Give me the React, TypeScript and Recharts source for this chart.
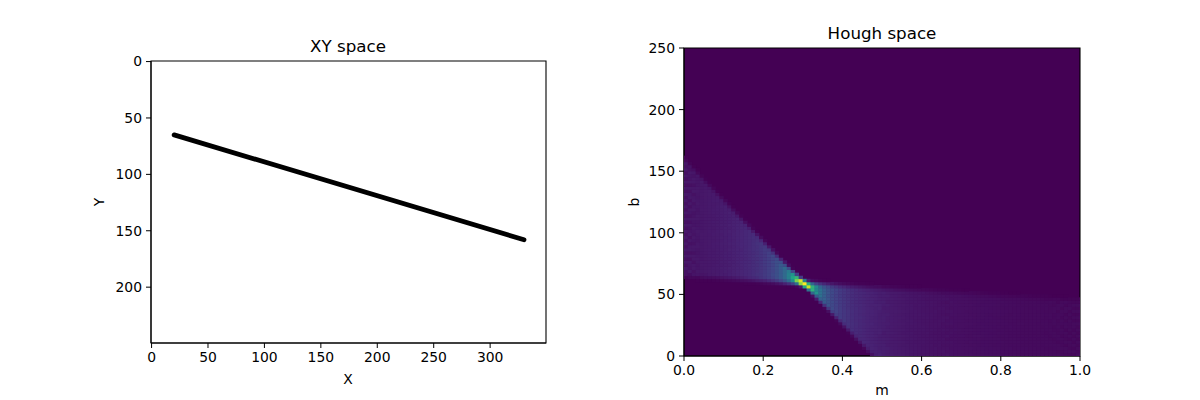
import React from 'react';
import {
  ComposedChart, ScatterChart, Scatter, Line, XAxis, YAxis, CartesianGrid, ReferenceArea,
} from 'recharts';

// left panel: the raster line (image pixel coords, y grows downward)
const lineX = [20, 330];
const lineY = [65, 158];
const lineThickness = 5;

const xyXTicks = [0, 50, 100, 150, 200, 250, 300];
const xyYTicks = [0, 50, 100, 150, 200];
const xyXDomain = [-0.5, 349.5];
const xyYDomain = [-0.5, 249.5];

// right panel: accumulator grid
const mBins = 100;
const bBins = 100;
const bMax = 250;
const houghMTicks = [0, 0.2, 0.4, 0.6, 0.8, 1.0];
const houghBTicks = [0, 50, 100, 150, 200, 250];

const viridis = [
  '#440154', '#482475', '#414487', '#355f8d', '#2a788e', '#21918c',
  '#22a884', '#44bf70', '#7ad151', '#bddf26', '#fde725',
];

const FONT = 'DejaVu Sans, sans-serif';

function hex(c: string) {
  return [1, 3, 5].map((i) => parseInt(c.slice(i, i + 2), 16));
}

function colorAt(t: number) {
  const v = Math.max(0, Math.min(1, t)) * (viridis.length - 1);
  const i = Math.min(Math.floor(v), viridis.length - 2);
  const f = v - i;
  const a = hex(viridis[i]);
  const b = hex(viridis[i + 1]);
  const c = a.map((x, k) => Math.round(x + (b[k] - x) * f));
  return `rgb(${c[0]},${c[1]},${c[2]})`;
}

// hough vote of the black pixels of the left image: b = y - m*x
function buildHough() {
  const acc = new Array(mBins * bBins).fill(0);
  const slope = (lineY[1] - lineY[0]) / (lineX[1] - lineX[0]);
  const half = Math.floor(lineThickness / 2);
  for (let x = lineX[0]; x <= lineX[1]; x++) {
    const yc = Math.round(lineY[0] + slope * (x - lineX[0]));
    for (let k = 0; k < lineThickness; k++) {
      const y = yc - half + k;
      for (let j = 0; j < mBins; j++) {
        const m = j / (mBins - 1);
        const b = y - m * x;
        const i = Math.floor(b / (bMax / bBins));
        if (i >= 0 && i < bBins) acc[j * bBins + i] += 1;
      }
    }
  }
  const max = Math.max(...acc);
  const cells = [];
  for (let j = 0; j < mBins; j++) {
    for (let i = 0; i < bBins; i++) {
      const v = acc[j * bBins + i];
      if (v > 0) {
        cells.push({
          m: (j + 0.5) / mBins,
          b: (i + 0.5) * (bMax / bBins),
          color: colorAt(v / max),
        });
      }
    }
  }
  return cells;
}

const houghCells = buildHough();
const xyData = lineX.map((x, i) => ({ x, y: lineY[i] }));

const tickStyle = { fill: '#000', fontSize: 13.9, fontFamily: FONT };

const CellShape = (props: any) => {
  const { cx, cy, payload } = props;
  const w = 396 / mBins + 0.4;
  const h = 308 / bBins + 0.4;
  return <rect x={cx - w / 2} y={cy - h / 2} width={w} height={h} fill={payload.color} />;
};

const Text = ({ x, y, size, rotate, children }: any) => (
  <div
    style={{
      position: 'absolute', left: x, top: y, fontFamily: FONT, fontSize: size,
      lineHeight: 1, whiteSpace: 'nowrap', color: '#000',
      transform: `translate(-50%, -50%)${rotate ? ' rotate(-90deg)' : ''}`,
    }}
  >
    {children}
  </div>
);

const App = () => {
  return (
    <div style={{ position: 'absolute', left: 0, top: 0, width: 1200, height: 400, background: '#fff' }}>
      <div style={{ position: 'absolute', left: 0, top: 0 }}>
        <ComposedChart
          width={600}
          height={400}
          data={xyData}
          margin={{ top: 61, left: 111, right: 54, bottom: 27 }}
        >
          <XAxis
            type="number"
            dataKey="x"
            domain={xyXDomain}
            ticks={xyXTicks}
            allowDataOverflow
            height={30}
            tick={tickStyle}
            tickSize={5}
            tickMargin={4}
            stroke="#000"
          />
          <YAxis
            type="number"
            dataKey="y"
            domain={xyYDomain}
            ticks={xyYTicks}
            reversed
            allowDataOverflow
            width={40}
            tick={tickStyle}
            tickSize={5}
            tickMargin={4}
            stroke="#000"
          />
          <Line
            type="linear"
            dataKey="y"
            stroke="#000"
            strokeWidth={4.8}
            strokeLinecap="round"
            dot={false}
            isAnimationActive={false}
          />
          <ReferenceArea
            x1={xyXDomain[0]} x2={xyXDomain[1]} y1={xyYDomain[0]} y2={xyYDomain[1]}
            fill="none" stroke="#000" strokeWidth={1.1} fillOpacity={0} strokeOpacity={1}
          />
        </ComposedChart>
      </div>
      <div style={{ position: 'absolute', left: 600, top: 0 }}>
        <ScatterChart
          width={600}
          height={400}
          margin={{ top: 48, left: 44, right: 120, bottom: 14 }}
        >
          <CartesianGrid fill="#440154" horizontal={false} vertical={false} stroke="none" />
          <XAxis
            type="number"
            dataKey="m"
            domain={[0, 1]}
            ticks={houghMTicks}
            tickFormatter={(v: number) => v.toFixed(1)}
            allowDataOverflow
            height={30}
            tick={tickStyle}
            tickSize={5}
            tickMargin={4}
            stroke="#000"
          />
          <YAxis
            type="number"
            dataKey="b"
            domain={[0, bMax]}
            ticks={houghBTicks}
            allowDataOverflow
            width={40}
            tick={tickStyle}
            tickSize={5}
            tickMargin={4}
            stroke="#000"
          />
          <Scatter data={houghCells} shape={CellShape} isAnimationActive={false} />
          <ReferenceArea
            x1={0} x2={1} y1={0} y2={bMax}
            fill="none" stroke="#000" strokeWidth={1.1} fillOpacity={0} strokeOpacity={1}
          />
        </ScatterChart>
      </div>
      <Text x={348} y={46} size={16.7}>XY space</Text>
      <Text x={882} y={33} size={16.7}>Hough space</Text>
      <Text x={348} y={380} size={13.9}>X</Text>
      <Text x={100} y={202} size={13.9} rotate>Y</Text>
      <Text x={882} y={391} size={13.9}>m</Text>
      <Text x={635} y={202} size={13.9} rotate>b</Text>
    </div>
  );
};

export default App;
